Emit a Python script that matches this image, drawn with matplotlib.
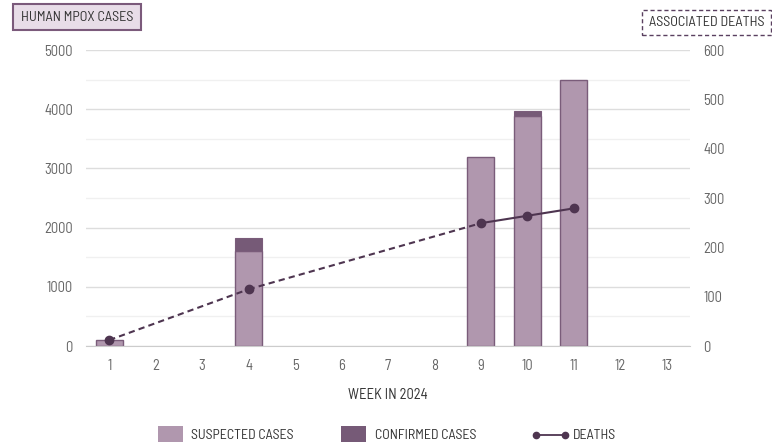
import matplotlib
matplotlib.use("Agg")
import matplotlib.pyplot as plt
from matplotlib.patches import Rectangle
from matplotlib.lines import Line2D
from matplotlib import font_manager

avail = {f.name for f in font_manager.fontManager.ttflist}
fam = next((f for f in ['Barlow Semi Condensed', 'Barlow Condensed', 'Roboto Condensed', 'Barlow', 'DejaVu Sans'] if f in avail), 'DejaVu Sans')
plt.rcParams['font.family'] = [fam, 'DejaVu Sans']

weeks = list(range(1, 14))
suspected = [100, 0, 0, 1600, 0, 0, 0, 0, 3190, 3890, 4490, 0, 0]
confirmed = [0, 0, 0, 225, 0, 0, 0, 0, 0, 80, 0, 0, 0]
death_weeks = [1, 4, 9, 10, 11]
deaths = [12, 115, 249, 264, 279]

C_SUS = '#b097ae'
C_CON = '#765a77'
C_EDGE = '#7a5c7a'
C_LINE = '#4e3550'
C_TICK = '#666666'
C_TXT = '#333333'

W, H = 772, 444
fig = plt.figure(figsize=(W / 100, H / 100), dpi=100)
ax = fig.add_axes([86 / W, 1 - 346 / H, (690 - 86) / W, (346 - 50) / H])
ax2 = ax.twinx()

sw = [w for w, s in zip(weeks, suspected) if s > 0]
sv = [s for s in suspected if s > 0]
ax.bar(sw, sv, width=0.58, color=C_SUS, edgecolor=C_EDGE, linewidth=1, zorder=2)
cw = [w for w, c in zip(weeks, confirmed) if c > 0]
cv = [c for c in confirmed if c > 0]
cb = [s for s, c in zip(suspected, confirmed) if c > 0]
ax.bar(cw, cv, width=0.58, bottom=cb, color=C_CON, edgecolor=C_EDGE, linewidth=0.8, zorder=2)

ax.set_xlim(0.5, 13.5)
ax.set_ylim(0, 5000)
ax.set_yticks(range(0, 5001, 1000))
ax.set_yticks(range(500, 5000, 1000), minor=True)
ax.grid(axis='y', which='major', color='#dddddd', linewidth=1, zorder=0)
ax.grid(axis='y', which='minor', color='#f0f0f0', linewidth=1, zorder=0)
ax.set_axisbelow(True)
ax.set_xticks(weeks)
ax.tick_params(axis='both', which='both', length=0, colors=C_TICK, labelsize=10.5)
ax.tick_params(axis='y', pad=9.5)
ax.tick_params(axis='x', pad=9)
for s in ax.spines.values():
    s.set_visible(False)
ax.spines['bottom'].set_visible(True)
ax.spines['bottom'].set_color('#cccccc')

ax2.set_ylim(0, 600)
ax2.set_yticks(range(0, 601, 100))
ax2.tick_params(axis='y', length=0, colors=C_TICK, labelsize=10.5, pad=9.5)
for s in ax2.spines.values():
    s.set_visible(False)

# dashed across gaps in weeks, solid for consecutive weeks
for i in range(len(death_weeks) - 1):
    consecutive = death_weeks[i + 1] - death_weeks[i] == 1
    ax2.plot(death_weeks[i:i + 2], deaths[i:i + 2], color=C_LINE, linewidth=1.5,
             linestyle='-' if consecutive else (0, (3, 2)), zorder=3)
ax2.plot(death_weeks, deaths, linestyle='none', marker='o', markersize=6, color=C_LINE, zorder=4)

ax.set_xlabel('WEEK IN 2024', fontsize=10.5, color=C_TXT, labelpad=11)


def fx(x):
    return x / W


def fy(y):
    return 1 - y / H


# title boxes
fig.patches.append(Rectangle((fx(13), fy(30)), fx(141) - fx(13), fy(4) - fy(30), transform=fig.transFigure,
                             facecolor='#e8dde8', edgecolor='#7b5a7b', linewidth=1.5))
fig.text(fx(77), fy(17.5), 'HUMAN MPOX CASES', fontsize=10.2, color=C_TXT, ha='center', va='center')
fig.patches.append(Rectangle((fx(642), fy(35)), fx(771) - fx(642), fy(10) - fy(35), transform=fig.transFigure,
                             facecolor='white', edgecolor='#5a4060', linewidth=1, linestyle=(0, (3, 2))))
fig.text(fx(706.5), fy(23), 'ASSOCIATED DEATHS', fontsize=10.2, color=C_TXT, ha='center', va='center')

# legend
fig.patches.append(Rectangle((fx(158), fy(442)), fx(183) - fx(158), fy(426) - fy(442), transform=fig.transFigure,
                             facecolor=C_SUS, edgecolor='none'))
fig.text(fx(191), fy(435), 'SUSPECTED CASES', fontsize=10, color=C_TXT, ha='left', va='center')
fig.patches.append(Rectangle((fx(341), fy(442)), fx(366) - fx(341), fy(426) - fy(442), transform=fig.transFigure,
                             facecolor=C_CON, edgecolor='none'))
fig.text(fx(375), fy(435), 'CONFIRMED CASES', fontsize=10, color=C_TXT, ha='left', va='center')
fig.lines.append(Line2D([fx(536), fx(565)], [fy(435), fy(435)], transform=fig.transFigure, color=C_LINE,
                        linewidth=1.3, marker='o', markersize=4.5))
fig.text(fx(573), fy(435), 'DEATHS', fontsize=10, color=C_TXT, ha='left', va='center')

fig.savefig('out.png', dpi=100)
